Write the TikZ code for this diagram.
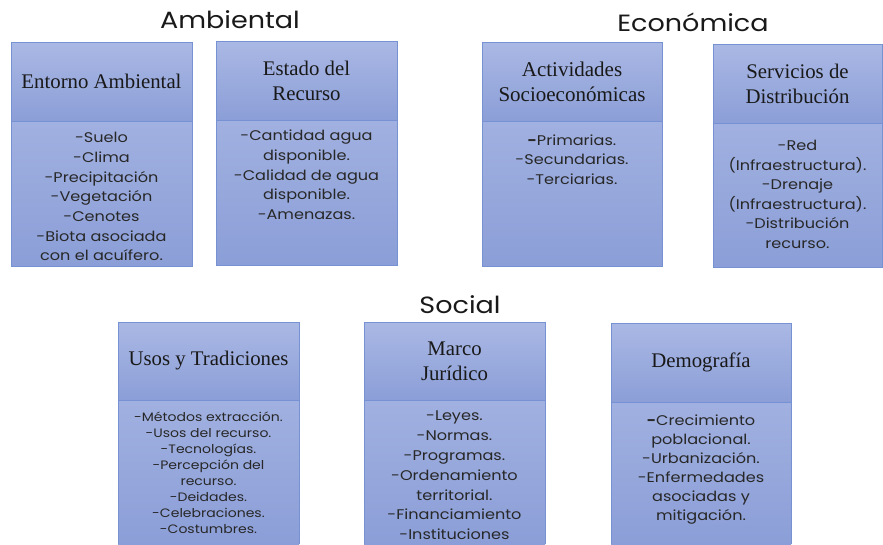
\documentclass[tikz,border=0pt]{standalone}
\usepackage{fontspec}
\setmainfont{Liberation Serif}
\newfontfamily\gothic[FakeStretch=1.15]{Poppins}
\usepackage{tikz}
\usetikzlibrary{positioning}
\definecolor{boxtop}{RGB}{170,184,228}
\definecolor{boxbot}{RGB}{139,158,215}
\definecolor{boxline}{RGB}{118,146,210}
\definecolor{txtgray}{RGB}{40,40,40}
\newcommand{\bodytxt}[4]{\parbox[t][#2][t]{#1}{\vspace*{#3}\centering\strut#4}}
\tikzset{
  hdr/.style={rectangle, draw=boxline, line width=0.8pt, top color=boxtop, bottom color=boxbot, minimum height=79pt, inner sep=0pt, outer sep=0pt, align=center, text=black!90, font=\fontsize{20.8}{25}\selectfont},
  bdy/.style={rectangle, draw=boxline, line width=0.8pt, top color=boxtop!70!boxbot, bottom color=boxbot, inner sep=0pt, outer sep=0pt, text=txtgray},
  openbdy/.style={bdy, draw=none},
  sides/.style={draw=boxline, line width=0.8pt},
  bigtxt/.style={font=\gothic\fontsize{14}{19.7}\selectfont},
  ttl/.style={font=\gothic\fontsize{23.5}{28}\selectfont, text=black!90}
}
\begin{document}
\begin{tikzpicture}[x=1pt,y=-1pt]
\useasboundingbox (0,0) rectangle (883,544);

\node (ambttl) [ttl] at (230,20) {Ambiental};
\node (ecottl) [ttl] at (693,22) {Económica};
\node (socttl) [ttl] at (460,305) {Social};

\node (envhdr) [hdr, minimum width=181pt, anchor=north west] at (11,42) {Entorno Ambiental};
\node (envbdy) [bdy, bigtxt, below=0pt of envhdr] {\bodytxt{181pt}{145pt}{8pt}{-Suelo\\-Clima\\-Precipitación\\-Vegetación\\-Cenotes\\-Biota asociada\\con el acuífero.}};

\node (reshdr) [hdr, minimum width=181pt, anchor=north west] at (216,41) {Estado del\\Recurso};
\node (resbdy) [bdy, bigtxt, below=0pt of reshdr] {\bodytxt{181pt}{145pt}{7pt}{-Cantidad agua\\disponible.\\-Calidad de agua\\disponible.\\-Amenazas.}};

\node (acthdr) [hdr, minimum width=180pt, anchor=north west, font=\fontsize{21}{25}\selectfont] at (482,42) {Actividades\\Socioeconómicas};
\node (actbdy) [bdy, bigtxt, below=0pt of acthdr] {\bodytxt{180pt}{145pt}{10.5pt}{\textbf{-}Primarias.\\-Secundarias.\\-Terciarias.}};

\node (srvhdr) [hdr, minimum width=169pt, anchor=north west] at (713,44) {Servicios de\\Distribución};
\node (srvbdy) [bdy, font=\gothic\fontsize{14}{19.5}\selectfont, below=0pt of srvhdr] {\bodytxt{169pt}{144pt}{14pt}{-Red\\(Infraestructura).\\-Drenaje\\(Infraestructura).\\-Distribución\\recurso.}};

\node (usohdr) [hdr, minimum width=181pt, minimum height=78pt, anchor=north west] at (118,322) {Usos y Tradiciones};
\node (usobdy) [openbdy, font=\gothic\fontsize{12.2}{16}\selectfont, below=0pt of usohdr] {\bodytxt{181pt}{144pt}{10pt}{-Métodos extracción.\\-Usos del recurso.\\-Tecnologías.\\-Percepción del\\recurso.\\-Deidades.\\-Celebraciones.\\-Costumbres.}};
\draw [sides] (usobdy.south west) -- (usobdy.north west) -- (usobdy.north east) -- (usobdy.south east);

\node (jurhdr) [hdr, minimum width=181pt, minimum height=78pt, anchor=north west] at (364,322) {Marco\\Jurídico};
\node (jurbdy) [openbdy, font=\gothic\fontsize{14}{19.8}\selectfont, below=0pt of jurhdr] {\bodytxt{181pt}{144pt}{7pt}{-Leyes.\\-Normas.\\-Programas.\\-Ordenamiento\\territorial.\\-Financiamiento\\-Instituciones}};
\draw [sides] (jurbdy.south west) -- (jurbdy.north west) -- (jurbdy.north east) -- (jurbdy.south east);

\node (demhdr) [hdr, minimum width=180pt, anchor=north west] at (611,323) {Demografía};
\node (dembdy) [openbdy, font=\gothic\fontsize{14}{19}\selectfont, below=0pt of demhdr] {\bodytxt{180pt}{142pt}{10pt}{\textbf{-}Crecimiento\\poblacional.\\-Urbanización.\\-Enfermedades\\asociadas y\\mitigación.}};
\draw [sides] (dembdy.south west) -- (dembdy.north west) -- (dembdy.north east) -- (dembdy.south east);
\end{tikzpicture}
\end{document}
